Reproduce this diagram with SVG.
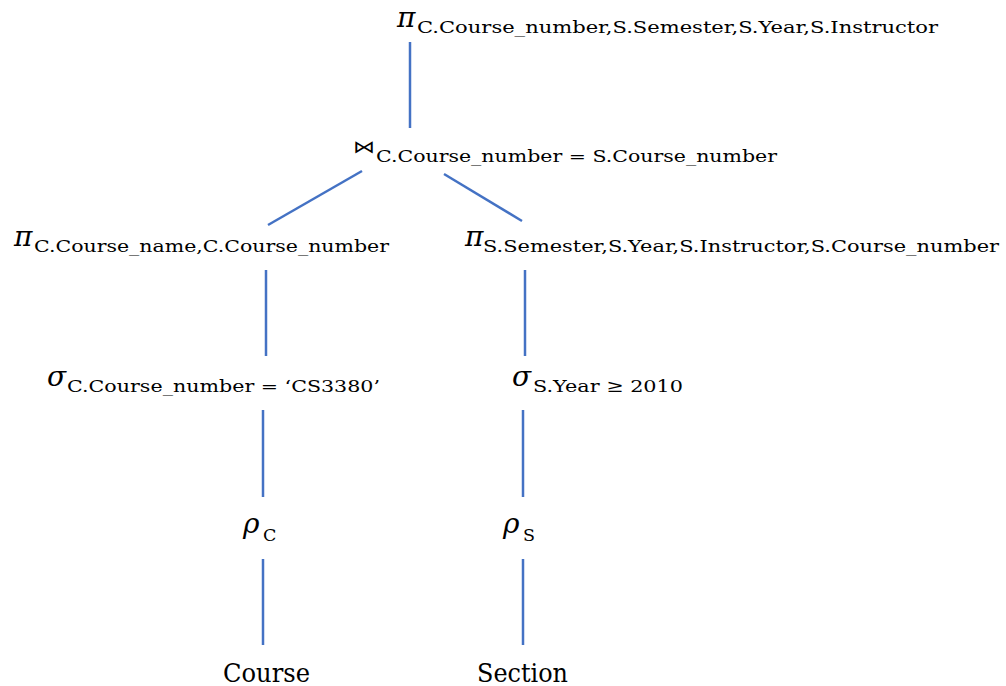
<svg xmlns="http://www.w3.org/2000/svg" width="1006" height="686" viewBox="0 0 1006 686">
<style>
text{font-family:'DejaVu Serif','Liberation Serif','Noto Serif',serif;fill:#000}
.g{font-style:italic;font-size:28px}
.s{font-size:17.5px}
.b{font-size:26.5px}
.e{stroke:#4472C4;stroke-width:2.5;fill:none}
</style>
<rect width="1006" height="686" fill="#fff"/>
<g id="connectors">
<line class="e" x1="410" y1="42" x2="410" y2="128"/>
<line class="e" x1="362" y1="171" x2="268" y2="225"/>
<line class="e" x1="444" y1="174" x2="522" y2="221"/>
<line class="e" x1="266" y1="270" x2="266" y2="356"/>
<line class="e" x1="525" y1="270" x2="525" y2="356"/>
<line class="e" x1="263" y1="410" x2="263" y2="497"/>
<line class="e" x1="523" y1="410" x2="523" y2="497"/>
<line class="e" x1="263" y1="559" x2="263" y2="645"/>
<line class="e" x1="523" y1="559" x2="523" y2="645"/>
</g>
<g id="proj-top">
<text class="g" x="397" y="27">π</text>
<text class="s" x="417" y="33" textLength="521" lengthAdjust="spacingAndGlyphs">C.Course_number,S.Semester,S.Year,S.Instructor</text>
</g>
<g id="join">
<text class="s" x="353" y="153" font-size="26" textLength="22" lengthAdjust="spacingAndGlyphs">⋈</text>
<text class="s" x="376" y="162" textLength="401" lengthAdjust="spacingAndGlyphs">C.Course_number = S.Course_number</text>
</g>
<g id="proj-left">
<text class="g" x="14" y="246">π</text>
<text class="s" x="34" y="252" textLength="355" lengthAdjust="spacingAndGlyphs">C.Course_name,C.Course_number</text>
</g>
<g id="proj-right">
<text class="g" x="465" y="246">π</text>
<text class="s" x="483" y="252" textLength="516" lengthAdjust="spacingAndGlyphs">S.Semester,S.Year,S.Instructor,S.Course_number</text>
</g>
<g id="sel-left">
<text class="g" x="47" y="386">σ</text>
<text class="s" x="67" y="392" textLength="313" lengthAdjust="spacingAndGlyphs">C.Course_number = ‘CS3380’</text>
</g>
<g id="sel-right">
<text class="g" x="512" y="386">σ</text>
<text class="s" x="533" y="392" textLength="150" lengthAdjust="spacingAndGlyphs">S.Year ≥ 2010</text>
</g>
<g id="rename-c">
<text class="g" x="243" y="533">ρ</text>
<text class="s" x="263" y="541" font-size="19">C</text>
</g>
<g id="rename-s">
<text class="g" x="503" y="533">ρ</text>
<text class="s" x="523" y="541" font-size="19">S</text>
</g>
<g id="course">
<text class="b" x="223" y="682" textLength="87" lengthAdjust="spacingAndGlyphs">Course</text>
</g>
<g id="section">
<text class="b" x="477" y="682" textLength="91" lengthAdjust="spacingAndGlyphs">Section</text>
</g>
</svg>
